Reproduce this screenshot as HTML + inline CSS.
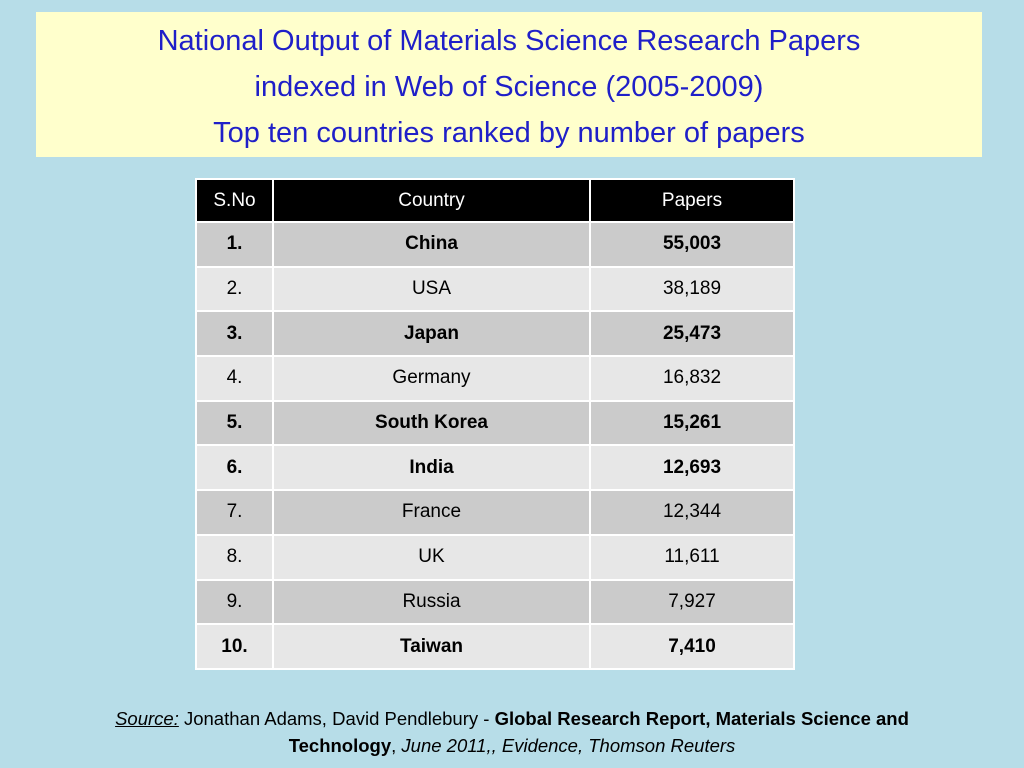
<!DOCTYPE html>
<html><head><meta charset="utf-8"><style>
body{margin:0;width:1024px;height:768px;background:#b7dde8;font-family:"Liberation Sans",sans-serif;position:relative;overflow:hidden}
#title{position:absolute;left:36px;top:12px;width:946px;height:145px;background:#ffffcc;color:#1f1fc8;text-align:center;font-size:29px;line-height:46px;padding-top:6px;box-sizing:border-box}
table{position:absolute;left:195px;top:178px;border-collapse:collapse}
td,th{border:2px solid #fff;text-align:center;font-size:19px;padding:0}
th{background:#000;color:#fff;font-weight:normal;height:41px}
td{height:42.7px}
tr.d td{background:#cbcbcb}
tr.l td{background:#e7e7e7}
tr.b td{font-weight:bold}
#src{position:absolute;left:0;width:1024px;top:705px;text-align:center;font-size:18.5px;line-height:27px;color:#000}
</style></head><body>
<div id="title">National Output of Materials Science Research Papers<br>indexed in Web of Science (2005-2009)<br>Top ten countries ranked by number of papers</div>
<table>
<tr><th style="width:75px">S.No</th><th style="width:315px">Country</th><th style="width:202px">Papers</th></tr>
<tr class="d b"><td>1.</td><td>China</td><td>55,003</td></tr>
<tr class="l"><td>2.</td><td>USA</td><td>38,189</td></tr>
<tr class="d b"><td>3.</td><td>Japan</td><td>25,473</td></tr>
<tr class="l"><td>4.</td><td>Germany</td><td>16,832</td></tr>
<tr class="d b"><td>5.</td><td>South Korea</td><td>15,261</td></tr>
<tr class="l b"><td>6.</td><td>India</td><td>12,693</td></tr>
<tr class="d"><td>7.</td><td>France</td><td>12,344</td></tr>
<tr class="l"><td>8.</td><td>UK</td><td>11,611</td></tr>
<tr class="d"><td>9.</td><td>Russia</td><td>7,927</td></tr>
<tr class="l b"><td>10.</td><td>Taiwan</td><td>7,410</td></tr>
</table>
<div id="src"><i><u>Source:</u></i> Jonathan Adams, David Pendlebury - <b>Global Research Report, Materials Science and<br>Technology</b>, <i>June 2011,, Evidence, Thomson Reuters</i></div>
</body></html>
